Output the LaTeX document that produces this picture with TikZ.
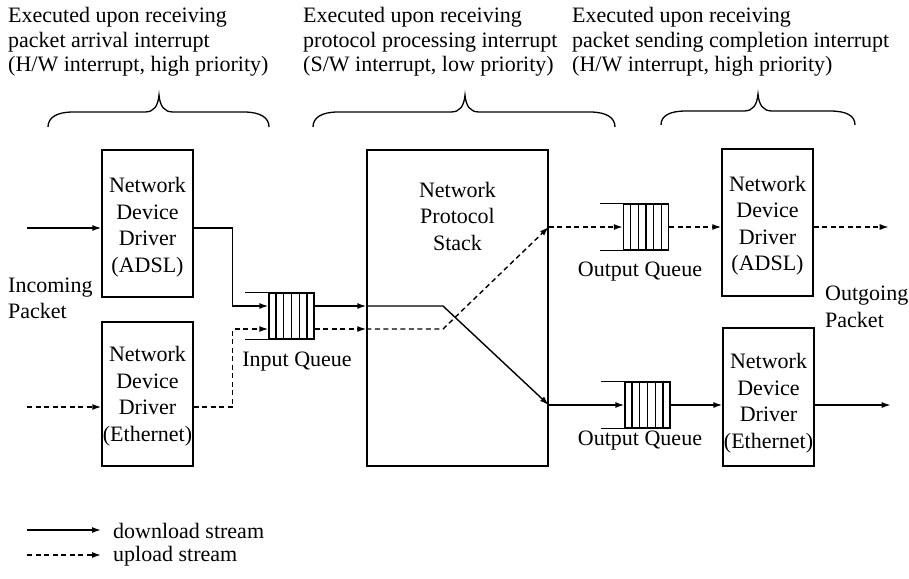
\documentclass[tikz,border=0pt]{standalone}
\usepackage{fontspec}
\setmainfont{Liberation Serif}
\usetikzlibrary{arrows.meta,calc}
\begin{document}
\begin{tikzpicture}[x=1pt,y=-1pt,
  every node/.style={font=\fontsize{22}{26.5}\selectfont},
  dbox/.style={draw,line width=1.4pt,inner sep=0pt},
  btxt/.style={inner sep=0pt,align=center},
  qbox/.style={draw,line width=1.4pt,minimum width=45pt,minimum height=46pt,inner sep=0pt},
  flow/.style={line width=1.4pt,-{Latex[length=9pt,width=6pt]}},
  upflow/.style={flow,dash pattern=on 5pt off 3.5pt},
  plain/.style={line width=1.4pt},
  brc/.style={line width=1.3pt},
  txt/.style={inner sep=0pt,align=left},
  hdr/.style={txt,anchor=west,font=\fontsize{22}{24.5}\selectfont}]
\useasboundingbox (0,0) rectangle (909,578);

% header texts
\node[hdr] (h1) at (8,42) {Executed upon receiving\\packet arrival interrupt\\(H/W interrupt, high priority)};
\node[hdr] (h2) at (303,42) {Executed upon receiving\\protocol processing interrupt\\(S/W interrupt, low priority)};
\node[hdr] (h3) at (572,42) {Executed upon receiving\\packet sending completion interrupt\\(H/W interrupt, high priority)};

% braces
\foreach \xa/\xm/\xb/\ya/\ym/\yt in {48/159/269/127/112/95, 313/465/615/127/112/95, 661/758/855/125/111/94}{
  \draw[brc] (\xa,\ya) .. controls (\xa,\ya-9) and (\xa+8,\ym) .. (\xa+25,\ym)
     -- (\xm-14,\ym) .. controls (\xm-5,\ym) and (\xm-1,\ym-6) .. (\xm,\yt)
     .. controls (\xm+1,\ym-6) and (\xm+5,\ym) .. (\xm+14,\ym)
     -- (\xb-25,\ym) .. controls (\xb-8,\ym) and (\xb,\ya-9) .. (\xb,\ya);
}

% boxes
\node[dbox,minimum width=91pt,minimum height=147pt] (adsl1) at (147.5,223.5) {};
\node[btxt] (adsl1t) at (147.5,227) {Network\\Device\\Driver\\(ADSL)};
\node[dbox,minimum width=91pt,minimum height=144pt] (eth1) at (147.5,394) {};
\node[btxt] (eth1t) at (147.5,396) {Network\\Device\\Driver\\(Ethernet)};
\node[dbox,minimum width=181pt,minimum height=316pt] (stack) at (457.5,308) {};
\node[btxt,anchor=north] (stacktxt) at (457.5,182) {Network\\Protocol\\Stack};
\node[dbox,minimum width=91pt,minimum height=147pt] (adsl2) at (767.5,222.5) {};
\node[btxt] (adsl2t) at (767.5,225.5) {Network\\Device\\Driver\\(ADSL)};
\node[dbox,minimum width=91pt,minimum height=138pt] (eth2) at (768.5,397) {};
\node[btxt] (eth2t) at (768.5,403) {Network\\Device\\Driver\\(Ethernet)};

% queues
\node[qbox] (iq) at (291.5,316) {};
\node[qbox] (oq1) at (646,227) {};
\node[qbox] (oq2) at (647.5,405) {};
\foreach \q in {iq,oq1,oq2}{
  \draw[plain] ([xshift=-23pt]\q.north west) -- (\q.north west);
  \draw[plain] ([xshift=-23pt]\q.south west) -- (\q.south west);
  \foreach \i in {1,...,5}{
    \draw[line width=1.3pt] ($(\q.north west)!\i/6!(\q.north east)$) -- ($(\q.south west)!\i/6!(\q.south east)$);
  }
}

% labels
\node[txt,anchor=west] (inc) at (8,298.5) {Incoming\\Packet};
\node[txt,anchor=west] (outg) at (825,307) {Outgoing\\Packet};
\node[txt] (iqt) at (297,362) {Input Queue};
\node[txt] (oq1t) at (640,272) {Output Queue};
\node[txt] (oq2t) at (640,441) {Output Queue};

% rows
\coordinate (inA) at (27,228);
\coordinate (inB) at (27,407);
\coordinate (rowS) at (0,306);
\coordinate (rowU) at (0,329);
\coordinate (bendS) at (443,306);
\coordinate (bendU) at (443,329);

% connectors
\draw[flow] (inA) -- (inA -| adsl1.west);
\draw[upflow] (inB) -- (inB -| eth1.west);
\draw[flow] (adsl1.east |- inA) -- ++(39,0) |- (iq.west |- rowS);
\draw[upflow] (eth1.east |- inB) -- ++(39,0) |- (iq.west |- rowU);
\draw[flow] (iq.east |- rowS) -- (stack.west |- rowS);
\draw[upflow] (iq.east |- rowU) -- (stack.west |- rowU);
\draw[flow] (stack.west |- rowS) -- (bendS) -- (stack.east |- oq2);
\draw[upflow] (stack.west |- rowU) -- (bendU) -- (stack.east |- oq1);
\draw[upflow] (stack.east |- oq1) -- (oq1.west);
\draw[upflow] (oq1.east) -- (adsl2.west |- oq1);
\draw[upflow] (adsl2.east |- oq1) -- ++(75,0);
\draw[flow] (stack.east |- oq2) -- (oq2.west);
\draw[flow] (oq2.east) -- (eth2.west |- oq2);
\draw[flow] (eth2.east |- oq2) -- ++(76,0);

% legend
\node[txt,anchor=west] (lgd) at (113,531) {download stream};
\node[txt,anchor=west] (lgu) at (113,556) {upload stream};
\coordinate (lg1) at (27,530);
\coordinate (lg2) at (27,555);
\draw[flow] (lg1) -- ([xshift=-12pt]lg1 -| lgd.west);
\draw[upflow] (lg2) -- ([xshift=-12pt]lg2 -| lgu.west);
\end{tikzpicture}
\end{document}
